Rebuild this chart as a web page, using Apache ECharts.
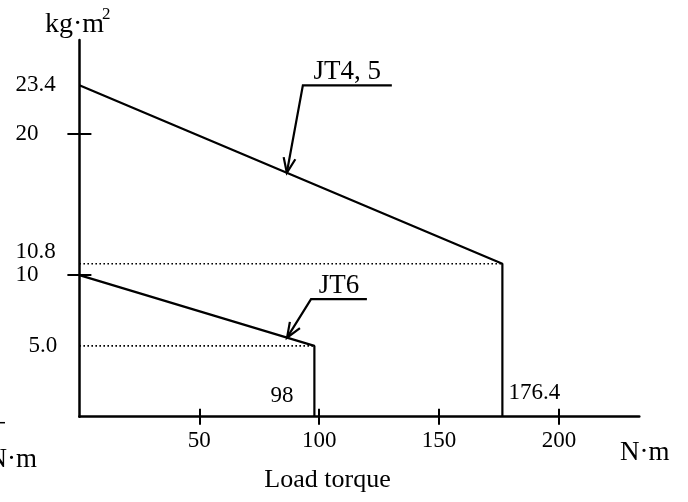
<!DOCTYPE html>
<html>
<head>
<meta charset="utf-8">
<script src="https://cdn.jsdelivr.net/npm/echarts@6/dist/echarts.min.js"></script>
<style>
  html, body { margin: 0; padding: 0; background: #fff; }
  #chart { width: 688px; height: 502px; }
</style>
</head>
<body>
<div id="chart"></div>
<script>
// Allowable load inertia vs. load torque
const FONT = "'Liberation Serif', 'Times New Roman', serif";

// JT4, 5 envelope: inertia falls linearly to the torque limit, then drops to zero
const jt45Torque = [0, 176.4, 176.4];
const jt45Inertia = [23.4, 10.8, 0];
// JT6 envelope
const jt6Torque = [0, 98, 98];
const jt6Inertia = [10, 5.0, 0];

// Axis ranges and ticks
const xMax = 233.5;
const yMax = 26.6;
const xTicks = [50, 100, 150, 200];
const yTicks = [10, 20];
const yLabels = [23.4, 20, 10.8, 10, 5.0];

// Callouts: label, x of arrow tip on the curve, elbow x, shelf y, shelf end x
const calloutText = ['JT4, 5', 'JT6'];
const calloutTipX = [86.5, 86.6];
const calloutElbowX = [93.2, 96.6];
const calloutShelfY = [23.4, 8.3];
const calloutEndX = [130.3, 119.9];

function toPairs(xs, ys) { return xs.map((x, i) => [x, ys[i]]); }
function interp(xs, ys, x) {
  for (let i = 0; i < xs.length - 1; i++) {
    if (x >= xs[i] && x <= xs[i + 1] && xs[i + 1] !== xs[i]) {
      return ys[i] + (ys[i + 1] - ys[i]) * (x - xs[i]) / (xs[i + 1] - xs[i]);
    }
  }
  return ys[0];
}
const curves = [[jt45Torque, jt45Inertia], [jt6Torque, jt6Inertia]];
const calloutData = calloutText.map((t, i) => [
  calloutTipX[i], interp(curves[i][0], curves[i][1], calloutTipX[i]),
  calloutElbowX[i], calloutShelfY[i], calloutEndX[i], i
]);

const black = '#000';
const lineStyle = { color: black, width: 2.2 };
const axisStroke = { color: black, width: 2.5 };

const chart = echarts.init(document.getElementById('chart'));
chart.setOption({
  animation: false,
  backgroundColor: '#fff',
  grid: { left: 79.4, right: 48.7, top: 40, bottom: 85.3, containLabel: false, outerBoundsMode: 'none' },
  xAxis: [{
    type: 'value', min: 0, max: xMax, position: 'bottom',
    axisLine: { show: true, onZero: false, lineStyle: axisStroke },
    axisTick: { show: true, length: 8, customValues: xTicks, lineStyle: { color: black, width: 2 } },
    axisLabel: { show: true, customValues: xTicks, margin: 13, color: black, fontSize: 23, fontFamily: FONT },
    splitLine: { show: false }
  }, {
    type: 'value', min: 0, max: xMax, position: 'bottom',
    axisLine: { show: false },
    axisTick: { show: true, inside: true, length: 8, customValues: xTicks, lineStyle: { color: black, width: 2 } },
    axisLabel: { show: false },
    splitLine: { show: false }
  }],
  yAxis: [{
    type: 'value', min: 0, max: yMax, position: 'left',
    axisLine: { show: true, onZero: false, lineStyle: axisStroke },
    axisTick: { show: true, length: 12, customValues: yTicks, lineStyle: { color: black, width: 2 } },
    axisLabel: {
      show: true, customValues: yLabels, margin: 64, align: 'left',
      color: black, fontSize: 23, fontFamily: FONT,
      formatter: v => v === 10.8 ? '{up|10.8}' : v === 5 ? '{ind|5.0}' : String(v),
      rich: {
        up: { fontSize: 23, fontFamily: FONT, color: black, padding: [0, 0, 24, 0] },
        ind: { fontSize: 23, fontFamily: FONT, color: black, padding: [0, 0, 0, 13] }
      }
    },
    splitLine: { show: false }
  }, {
    type: 'value', min: 0, max: yMax, position: 'left',
    axisLine: { show: false },
    axisTick: { show: true, inside: true, length: 12, customValues: yTicks, lineStyle: { color: black, width: 2 } },
    axisLabel: { show: false },
    splitLine: { show: false }
  }],
  series: [
    { name: 'JT4, 5', type: 'line', data: toPairs(jt45Torque, jt45Inertia), showSymbol: false, lineStyle },
    { name: 'JT6', type: 'line', data: toPairs(jt6Torque, jt6Inertia), showSymbol: false, lineStyle },
    // dotted guides from the inertia axis to each corner point
    { type: 'line', data: [[0, jt45Inertia[1]], [jt45Torque[1], jt45Inertia[1]]], showSymbol: false,
      lineStyle: { color: black, width: 1.6, type: [1.6, 2.4] } },
    { type: 'line', data: [[0, jt6Inertia[1]], [jt6Torque[1], jt6Inertia[1]]], showSymbol: false,
      lineStyle: { color: black, width: 1.6, type: [1.6, 2.4] } },
    // torque limit values beside the vertical drops
    {
      type: 'custom',
      data: [[jt6Torque[1], 0, -1], [jt45Torque[1], 0, 1]],
      renderItem: (params, api) => {
        const p = api.coord([api.value(0), api.value(1)]);
        const side = api.value(2);
        return {
          type: 'text',
          style: {
            text: String(api.value(0)),
            x: p[0] + (side < 0 ? -21 : 6),
            y: p[1] - (side < 0 ? 21 : 24),
            align: side < 0 ? 'right' : 'left',
            verticalAlign: 'middle',
            fill: black, fontSize: 23, fontFamily: FONT
          }
        };
      }
    },
    // leader callouts with open arrowheads
    {
      type: 'custom',
      data: calloutData,
      renderItem: (params, api) => {
        const tip = api.coord([api.value(0), api.value(1)]);
        const elbow = api.coord([api.value(2), api.value(3)]);
        const end = api.coord([api.value(4), api.value(3)]);
        const idx = api.value(5);
        const ang = Math.atan2(elbow[1] - tip[1], elbow[0] - tip[0]);
        const L = 16, spread = 0.38;
        const a1 = [tip[0] + L * Math.cos(ang + spread), tip[1] + L * Math.sin(ang + spread)];
        const a2 = [tip[0] + L * Math.cos(ang - spread), tip[1] + L * Math.sin(ang - spread)];
        const stroke = { stroke: black, lineWidth: 2.2, fill: null };
        return {
          type: 'group',
          children: [
            { type: 'polyline', shape: { points: [end, elbow, tip] }, style: stroke },
            { type: 'polyline', shape: { points: [a1, tip, a2] }, style: stroke },
            {
              type: 'text',
              style: {
                text: calloutText[idx],
                x: (elbow[0] + end[0]) / 2, y: elbow[1] - 13,
                align: 'center', verticalAlign: 'middle',
                fill: black, fontSize: 27, fontFamily: FONT
              }
            }
          ]
        };
      }
    }
  ],
  graphic: [
    { type: 'text', left: 45, top: 11, style: { text: 'kg·m', fill: black, fontSize: 28, fontFamily: FONT } },
    { type: 'text', left: 102, top: 6, style: { text: '2', fill: black, fontSize: 17, fontFamily: FONT } },
    { type: 'text', x: 327.5, y: 480, style: { text: 'Load torque', align: 'center', verticalAlign: 'middle', fill: black, fontSize: 26, fontFamily: FONT } },
    { type: 'text', x: 620, y: 453, style: { text: 'N·m', align: 'left', verticalAlign: 'middle', fill: black, fontSize: 27, fontFamily: FONT } },
    { type: 'text', x: 37, y: 460, style: { text: 'N·m', align: 'right', verticalAlign: 'middle', fill: black, fontSize: 27, fontFamily: FONT } },
    { type: 'line', shape: { x1: 0, y1: 422.7, x2: 5, y2: 422.7 }, style: { stroke: black, lineWidth: 1.5 } }
  ]
});
</script>
</body>
</html>
